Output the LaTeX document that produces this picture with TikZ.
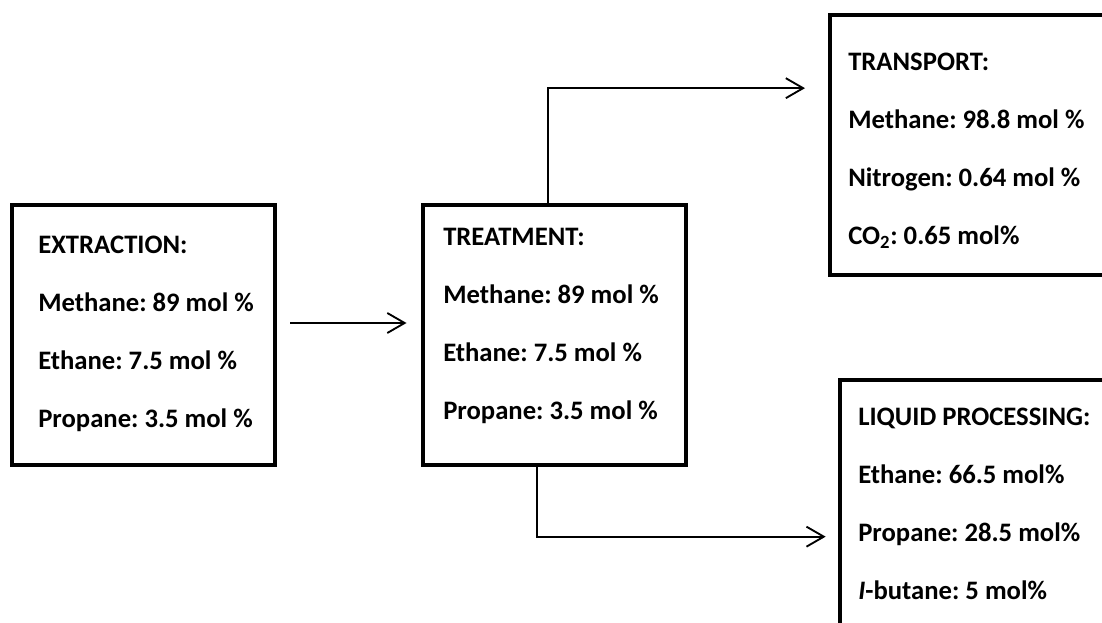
\documentclass[tikz,border=0pt]{standalone}
\usepackage{fontspec}
\setmainfont{Carlito}
\usetikzlibrary{arrows.meta}
\begin{document}
\frenchspacing
\begin{tikzpicture}[x=0.75pt, y=-0.75pt,
                    box/.style={draw, line width=3pt, inner sep=0pt, minimum width=197pt, minimum height=195pt},
                    info/.style={anchor=north west, inner sep=0pt, align=left, font=\fontsize{20}{43.5}\selectfont\bfseries},
                    flow/.style={line width=1.4pt, -{Straight Barb[length=13pt, width=15pt, line width=1.4pt]}}]
\useasboundingbox (0,0) rectangle (1102,623);
\clip (0,0) rectangle (1102,623);

% stages
\node[box] (extr) at (143.5,335) {};
\node[box] (treat) at (554.5,335) {};
\node[box, minimum width=230pt] (trans) at (983,145.5) {};
\node[box, minimum width=230pt] (liquid) at (993,510) {};

\node[info] (extrtext) at (38,236) {EXTRACTION:\\ Methane: 89 mol \%\\ Ethane: 7.5 mol \%\\ Propane: 3.5 mol \%};
\node[info] (treattext) at (443,228) {TREATMENT:\\ Methane: 89 mol \%\\ Ethane: 7.5 mol \%\\ Propane: 3.5 mol \%};
\node[info] (transtext) at (848,53) {TRANSPORT:\\ Methane: 98.8 mol \%\\ Nitrogen: 0.64 mol \%\\ CO\textsubscript{2}: 0.65 mol\%};
\node[info] (liquidtext) at (858,408) {LIQUID PROCESSING:\\ Ethane: 66.5 mol\%\\ Propane: 28.5 mol\%\\ \textit{I}-butane: 5 mol\%};

% streams
\draw[flow] ([xshift=10pt, yshift=9pt]extr.east) -- ([xshift=-11pt, yshift=9pt]treat.west);
\draw[flow] ([xshift=-5pt]treat.north) |- ([xshift=-17pt, yshift=43pt]trans.west);
\draw[flow] ([xshift=-13pt]treat.south) |- ([xshift=-9pt, yshift=-20pt]liquid.west);
\end{tikzpicture}
\end{document}
